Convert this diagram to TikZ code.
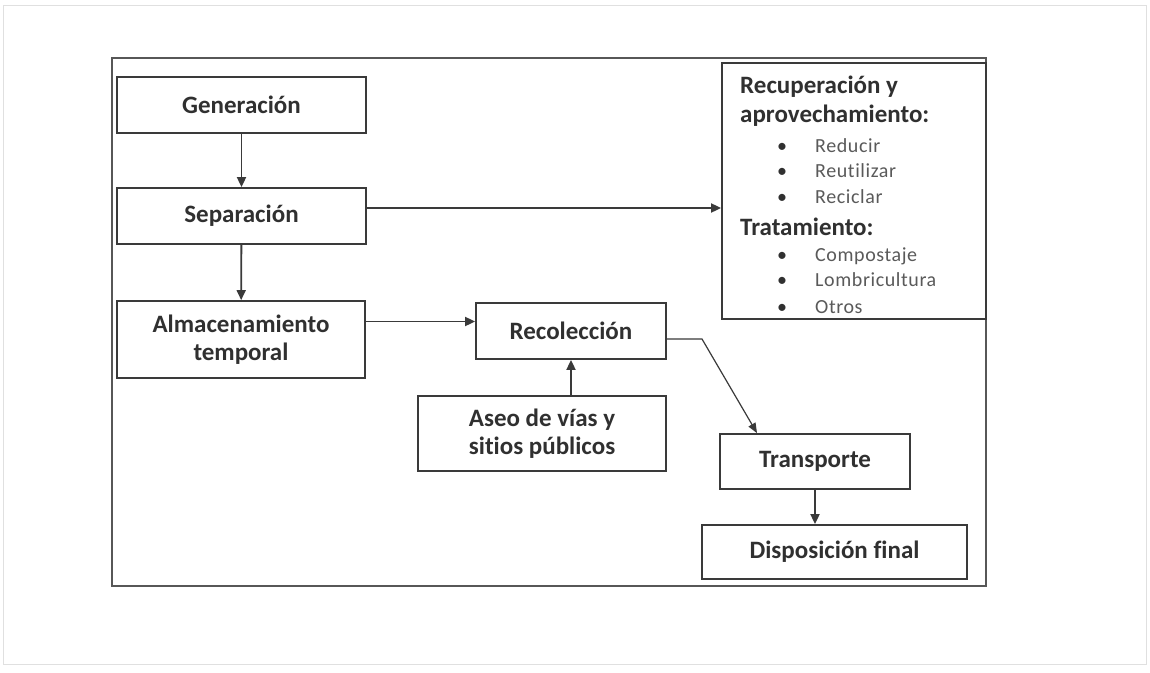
\documentclass[tikz,border=0pt]{standalone}
\usepackage{fontspec}
\setmainfont{Carlito}[Ligatures=NoCommon]
\usetikzlibrary{arrows.meta}
\definecolor{txt}{HTML}{303030}
\definecolor{itemc}{HTML}{5a5a5a}
\definecolor{linec}{HTML}{3a3a3a}
\begin{document}
\begin{tikzpicture}[x=1pt,y=-1pt,
  box/.style={draw=linec,line width=1.8pt,inner sep=0pt,align=center,text=txt,
    font=\bfseries\fontsize{25}{28}\selectfont},
  arr/.style={draw=linec,line width=1.8pt,-{Triangle[length=10pt,width=9pt]}},
  thinarr/.style={draw=linec,line width=1.2pt,-{Triangle[length=10pt,width=8pt]}},
  head/.style={anchor=base west,inner sep=0pt,text=txt,font=\bfseries\fontsize{25}{28}\selectfont},
  itm/.style={anchor=base west,inner sep=0pt,text=itemc,font=\fontsize{20}{24}\selectfont\addfontfeatures{LetterSpace=3}},
  bul/.style={anchor=base,inner sep=0pt,text=txt,font=\fontsize{20}{24}\selectfont}]
\useasboundingbox (0,0) rectangle (1150,672);
\fill[white] (0,0) rectangle (1150,672);
\draw[black!12,line width=1pt] (3,5) rectangle (1146,664);
\draw[linec!85,line width=1.3pt] (112,58) rectangle (986,586);

\node[box,minimum width=249,minimum height=56] (gen) at (241.5,105) {Generación};
\node[box,minimum width=249,minimum height=56] (sep) at (241.5,216) {Separación};
\node[box,minimum width=248,minimum height=77] (alm) at (241,339.5) {Almacenamiento\\temporal};
\node[box,minimum width=190,minimum height=56] (recol) at (571,331) {Recolección};
\node[box,minimum width=248,minimum height=75] (aseo) at (542,433.5) {Aseo de vías y\\sitios públicos};
\node[box,minimum width=190,minimum height=55] (trans) at (815,461.5) {Transporte};
\node[box,minimum width=265,minimum height=54] (disp) at (834.5,552) {Disposición final};
\node[box,minimum width=264,minimum height=256] (rec) at (854,191) {};

\node[head] (h1) at (740,93) {Recuperación y};
\node[head] (h2) at (740,122) {aprovechamiento:};
\node[bul] (b1) at (782,152) {•};
\node[itm] (i1) at (815,152) {Reducir};
\node[bul] (b2) at (782,177) {•};
\node[itm] (i2) at (815,177) {Reutilizar};
\node[bul] (b3) at (782,203) {•};
\node[itm] (i3) at (815,203) {Reciclar};
\node[head] (h3) at (740,235) {Tratamiento:};
\node[bul] (b4) at (782,261) {•};
\node[itm] (i4) at (815,261) {Compostaje};
\node[bul] (b5) at (782,286) {•};
\node[itm] (i5) at (815,286) {Lombricultura};
\node[bul] (b6) at (782,313) {•};
\node[itm] (i6) at (815,313) {Otros};

\draw[arr] (gen) -- (sep);
\draw[arr] (sep) -- (alm);
\draw[arr] ([yshift=8pt]sep.east) -- ([yshift=8pt]sep.east -| rec.west);
\draw[arr] ([yshift=18pt]alm.east) -- ([yshift=18pt]alm.east -| recol.west);
\draw[arr] (recol.south |- aseo.north) -- (recol.south);
\coordinate (bend) at (702,339);
\draw[thinarr] ([yshift=-8pt]recol.east) -- (bend) -- ([xshift=-58pt]trans.north);
\draw[arr] (trans.south) -- (trans.south |- disp.north);
\end{tikzpicture}
\end{document}
